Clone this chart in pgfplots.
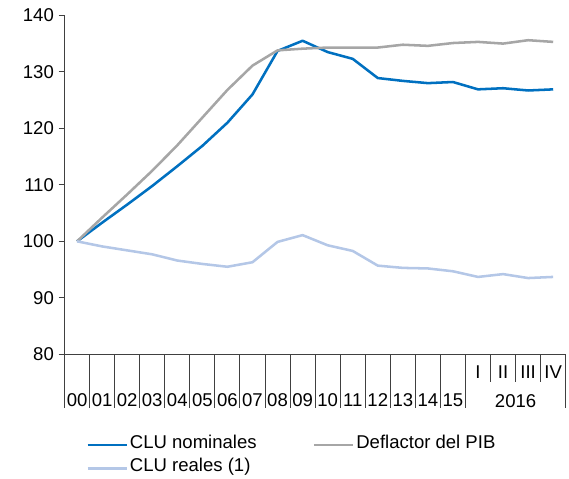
\documentclass[border=0pt]{standalone}
\usepackage{fontspec}
\setmainfont{Liberation Sans}
\usepackage{pgfplots}
\usepackage{pgfplotstable}
\pgfplotsset{compat=1.18}
\definecolor{clunom}{HTML}{0070C0}
\definecolor{defl}{HTML}{A6A6A6}
\definecolor{clureal}{HTML}{B4C7E7}
\definecolor{axisgray}{HTML}{404040}
\newcommand\cf{\fontsize{13.9}{16.7}\selectfont}

% k: 0..15 = 2000..2015, 16..19 = 2016 I..IV
\pgfplotstableread{
k   nom    defl   real
0   100.0  100.0  100.0
1   103.3  104.2  99.1
2   106.5  108.3  98.4
3   109.8  112.5  97.7
4   113.3  117.0  96.6
5   116.9  121.9  96.0
6   121.0  126.8  95.5
7   126.0  131.1  96.3
8   133.7  133.8  99.9
9   135.5  134.1  101.1
10  133.5  134.3  99.3
11  132.3  134.3  98.3
12  128.9  134.3  95.7
13  128.4  134.8  95.3
14  128.0  134.6  95.2
15  128.2  135.1  94.7
16  126.9  135.3  93.7
17  127.1  135.0  94.2
18  126.7  135.6  93.5
19  126.9  135.3  93.7
}\datatable

\begin{document}
\begin{tikzpicture}
\path[use as bounding box] (0,0) rectangle (426.75pt,359.25pt);
\begin{axis}[
  at={(48.4pt,93.5pt)}, anchor=south west,
  scale only axis, width=375.9pt, height=254.25pt,
  xmin=-0.5, xmax=19.5, ymin=80, ymax=140,
  axis x line*=bottom, axis y line*=left,
  axis line style={axisgray, line width=0.75pt},
  tick align=outside, major tick length=4.5pt,
  ytick={80,90,...,140},
  ytick style={axisgray, line width=0.75pt},
  xtick={0,...,15},
  xticklabels={00,01,02,03,04,05,06,07,08,09,10,11,12,13,14,15},
  xtick style={draw=none},
  xticklabel style={anchor=center, yshift=-30.0pt},
  extra x ticks={16,17,18,19},
  extra x tick labels={I,II,III,IV},
  extra x tick style={xticklabel style={yshift=21.5pt}},
  tick label style={font=\cf},
  /pgf/number format/assume math mode=true,
  clip=false,
  legend columns=2,
  legend cell align=left,
  legend image code/.code={\draw[#1] (0pt,0pt) -- (29.25pt,0pt);},
  legend style={at={(0.0429,-0.248)}, anchor=north west, draw=none, fill=none,
    inner sep=0pt, font=\cf, row sep=7.9pt,
    nodes={inner sep=0pt, text height=0.72em, text depth=0.25em},
    /tikz/every odd column/.style={column sep=1.6pt},
    /tikz/every even column/.style={column sep=42pt}},
]
\addplot[clunom, line width=1.9pt, line join=round] table[x=k, y=nom] {\datatable};
\addlegendentry{CLU nominales}
\addplot[defl, line width=1.9pt, line join=round] table[x=k, y=defl] {\datatable};
\addlegendentry{Deflactor del PIB}
\addplot[clureal, line width=1.9pt, line join=round] table[x=k, y=real] {\datatable};
\addlegendentry{CLU reales (1)}
% category separators below the axis
\pgfplotsinvokeforeach{-0.5,0.5,1.5,2.5,3.5,4.5,5.5,6.5,7.5,8.5,9.5,10.5,11.5,12.5,13.5,14.5,15.5,19.5}{
  \draw[axisgray, line width=0.75pt] (axis cs:#1,80) -- ++(0pt,-40.3pt);
}
\pgfplotsinvokeforeach{16.5,17.5,18.5}{
  \draw[axisgray, line width=0.75pt] (axis cs:#1,80) -- ++(0pt,-20.5pt);
}
\node[font=\cf] at (axis cs:17.5,80) [yshift=-35.3pt] {2016};
\end{axis}
\end{tikzpicture}
\end{document}
